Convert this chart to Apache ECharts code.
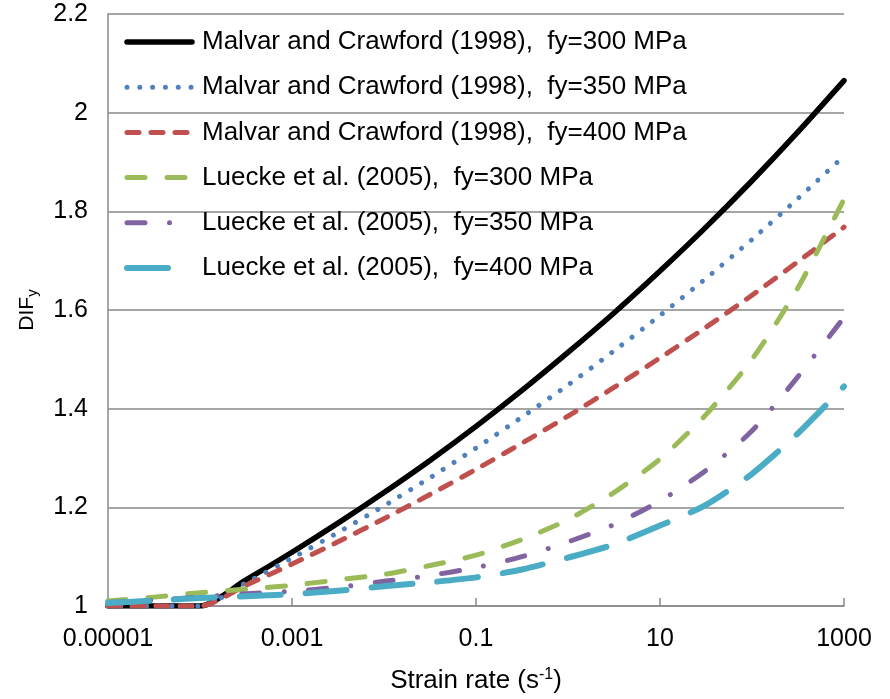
<!DOCTYPE html>
<html>
<head>
<meta charset="utf-8">
<script src="https://cdn.jsdelivr.net/npm/echarts@6/dist/echarts.min.js"></script>
<style>
  html, body { margin: 0; padding: 0; background: #fff; }
  #chart { width: 890px; height: 699px; }
</style>
</head>
<body>
<div id="chart"></div>
<script>
// Strain rate sample points (s^-1), half-decade spacing
const strainRate = [0.00001, 0.0000316, 0.0001, 0.000316, 0.001, 0.00316, 0.01, 0.0316,
                    0.1, 0.316, 1, 3.16, 10, 31.6, 100, 316, 1000];

// Dynamic increase factor of yield strength
const malvar300 = [1.000, 1.000, 1.000, 1.053, 1.109, 1.168, 1.230, 1.295, 1.364, 1.437, 1.514, 1.594, 1.679, 1.768, 1.862, 1.961, 2.065];
const malvar350 = [1.000, 1.000, 1.000, 1.047, 1.097, 1.149, 1.203, 1.260, 1.320, 1.383, 1.448, 1.517, 1.589, 1.664, 1.743, 1.826, 1.912];
const malvar400 = [1.000, 1.000, 1.000, 1.042, 1.085, 1.130, 1.177, 1.226, 1.277, 1.330, 1.385, 1.443, 1.503, 1.565, 1.630, 1.698, 1.768];
const luecke300 = [1.010, 1.018, 1.027, 1.034, 1.042, 1.053, 1.064, 1.082, 1.103, 1.135, 1.175, 1.230, 1.298, 1.388, 1.500, 1.645, 1.825];
const luecke350 = [1.007, 1.012, 1.018, 1.025, 1.030, 1.038, 1.050, 1.062, 1.078, 1.100, 1.130, 1.165, 1.213, 1.275, 1.355, 1.465, 1.585];
const luecke400 = [1.006, 1.011, 1.016, 1.020, 1.024, 1.031, 1.040, 1.048, 1.058, 1.074, 1.098, 1.125, 1.163, 1.205, 1.268, 1.350, 1.445];

const seriesNames = [
  'Malvar and Crawford (1998),  fy=300 MPa',
  'Malvar and Crawford (1998),  fy=350 MPa',
  'Malvar and Crawford (1998),  fy=400 MPa',
  'Luecke et al. (2005),  fy=300 MPa',
  'Luecke et al. (2005),  fy=350 MPa',
  'Luecke et al. (2005),  fy=400 MPa'
];
const seriesValues = [malvar300, malvar350, malvar400, luecke300, luecke350, luecke400];

// Labelled ticks on the strain-rate axis
const xTickValues = [0.00001, 0.001, 0.1, 10, 1000];
const xTickLabels = ['0.00001', '0.001', '0.1', '10', '1000'];

const seriesStyles = [
  { color: '#000000', width: 5.5, type: 'solid' },
  { color: '#4F81BD', width: 5, type: [0.01, 12.8] },
  { color: '#C0504D', width: 5, type: [12, 12] },
  { color: '#9BBB59', width: 5, type: [18, 22] },
  { color: '#8064A2', width: 5, type: [18, 24.5, 0.01, 24.5] },
  { color: '#4BACC6', width: 6, type: [41, 25] }
];

const FONT = '"Liberation Sans", Arial, sans-serif';
const AXIS_GREY = '#898989';

const chart = echarts.init(document.getElementById('chart'), null, { renderer: 'canvas' });

chart.setOption({
  animation: false,
  backgroundColor: '#ffffff',
  textStyle: { fontFamily: FONT },
  grid: { left: 108, right: 46, top: 14, bottom: 88, containLabel: false },
  legend: {
    orient: 'vertical',
    left: 119,
    top: 24,
    itemWidth: 65,
    itemHeight: 26,
    itemGap: 19.2,
    data: seriesNames,
    lineStyle: { width: 'inherit' },
    itemStyle: { opacity: 0, borderWidth: 0 },
    textStyle: { fontFamily: FONT, fontSize: 26, lineHeight: 26, color: '#000', padding: [0, 0, 0, 5] }
  },
  xAxis: {
    type: 'log',
    logBase: 10,
    min: 0.00001,
    max: 1000,
    interval: 2,
    axisLine: { lineStyle: { color: AXIS_GREY, width: 1.5 } },
    axisTick: { inside: true, length: 8, lineStyle: { color: AXIS_GREY, width: 1.5 } },
    axisLabel: {
      margin: 21,
      fontSize: 25,
      color: '#000',
      fontFamily: FONT,
      formatter: function (value) {
        const i = xTickValues.findIndex(v => Math.abs(Math.log10(v) - Math.log10(value)) < 1e-6);
        return i >= 0 ? xTickLabels[i] : '';
      }
    },
    splitLine: { show: false },
    name: 'Strain rate (s{sup|-1})',
    nameLocation: 'middle',
    nameGap: 61,
    nameTextStyle: {
      fontFamily: FONT, fontSize: 26, color: '#000',
      rich: { sup: { fontFamily: FONT, fontSize: 16, color: '#000', padding: [0, 0, 12, 0] } }
    }
  },
  yAxis: {
    type: 'value',
    min: 1,
    max: 2.2,
    interval: 0.2,
    axisLine: { show: true, lineStyle: { color: AXIS_GREY, width: 1.5 } },
    axisTick: { show: false },
    axisLabel: { margin: 20, fontSize: 25, color: '#000', fontFamily: FONT },
    splitLine: { lineStyle: { color: AXIS_GREY, width: 1.5 } },
    name: '{a|DIF}{b|y}',
    nameLocation: 'middle',
    nameGap: 68,
    nameRotate: 90,
    nameTextStyle: {
      rich: {
        a: { fontFamily: FONT, fontSize: 21, color: '#000' },
        b: { fontFamily: FONT, fontSize: 15, color: '#000', padding: [10, 0, 0, 0] }
      }
    }
  },
  series: seriesNames.map((name, k) => ({
    name: name,
    type: 'line',
    data: strainRate.map((x, i) => [x, seriesValues[k][i]]),
    smooth: 0.25,
    symbol: 'none',
    color: seriesStyles[k].color,
    lineStyle: {
      color: seriesStyles[k].color,
      width: seriesStyles[k].width,
      type: seriesStyles[k].type,
      cap: 'round',
      join: 'round'
    }
  }))
});
</script>
</body>
</html>
